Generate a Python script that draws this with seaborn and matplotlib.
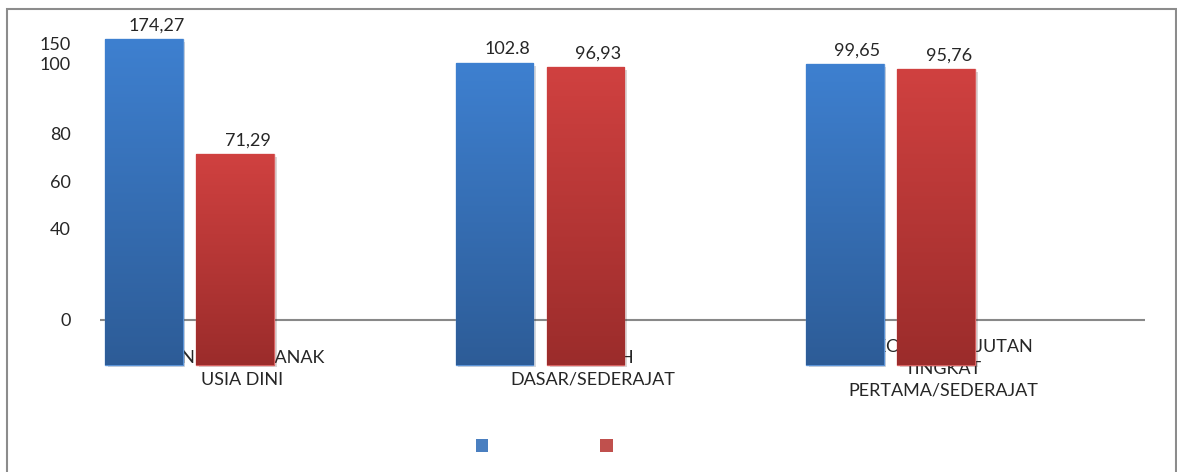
import matplotlib
matplotlib.use("Agg")
import matplotlib.pyplot as plt
import matplotlib.patheffects as pe
import numpy as np
import pandas as pd
import seaborn as sns
from matplotlib.patches import Patch, Rectangle

# data
categories = ["PENDIDIKAN ANAK\nUSIA DINI",
              "SEKOLAH\nDASAR/SEDERAJAT",
              "SEKOLAH LANJUTAN\nTINGKAT\nPERTAMA/SEDERAJAT"]
series = ["Seri 1", "Seri 2"]
values_1 = [174.27, 102.8, 99.65]
values_2 = [71.29, 96.93, 95.76]
labels_1 = ["174,27", "102.8", "99,65"]
labels_2 = ["71,29", "96,93", "95,76"]
yticks = [0, 40, 60, 80, 100, 150]

colors = ["#3b7dcc", "#c93a39"]
grad_top = ["#3e80d0", "#d04140"]
grad_bot = ["#2d5c97", "#9b2c2b"]
edges = ["#5b93d6", "#d86262"]

df = pd.DataFrame({
    "kategori": categories * 2,
    "seri": [series[0]] * 3 + [series[1]] * 3,
    "nilai": values_1 + values_2,
})

sns.set_style("white")
plt.rcParams["font.family"] = ["Lato", "DejaVu Sans"]

fig = plt.figure(figsize=(11.77, 4.72), dpi=100)
ax = fig.add_axes([100 / 1177, 1 - 420 / 472, 1045 / 1177, 400 / 472])

sns.barplot(data=df, x="kategori", y="nilai", hue="seri", palette=colors,
            width=0.52, gap=0.15, legend=False, ax=ax, errorbar=None)

# uneven value axis like the original chart (piecewise linear)
kv = np.array([-100, 0, 40, 60, 80, 96, 100, 150, 200, 400])
kp = np.array([-235, 0, 91, 139, 186, 252, 256, 276, 286, 320])
ax.set_yscale("function", functions=(lambda v: np.interp(v, kv, kp),
                                     lambda p: np.interp(p, kp, kv)))
ax.set_ylim(np.interp(-100, kp, kv), np.interp(300, kp, kv))
ax.set_xlim(-0.2553, 2.726)

# bars hang a bit below the zero line
floor = -19
for p in ax.patches:
    h = p.get_height()
    p.set_y(floor)
    p.set_height(h - floor)
    p.set_zorder(1)

for cont, labs in zip(ax.containers, [labels_1, labels_2]):
    anns = ax.bar_label(cont, labels=labs, padding=4, fontsize=13)
    for a in anns:
        a.xyann = (9, 4)

ax.axhline(0, color="#888888", lw=1.5, zorder=0.7)

ax.set_xticks([])
ax.set_yticks(yticks)
ax.set_yticklabels([str(t) for t in yticks], fontsize=13)
ax.tick_params(axis="y", length=0, pad=21)
ax.set_xlabel("")
ax.set_ylabel("")
for s in ax.spines.values():
    s.set_visible(False)

for i, cat in enumerate(categories):
    ax.annotate(cat, xy=(i, 0), xytext=(38, -35), textcoords="offset points",
                ha="center", va="center", fontsize=13, linespacing=1.45,
                zorder=0.6)

# gradient fill clipped to each bar
ax.set_autoscale_on(False)
xl, yl = ax.get_xlim(), ax.get_ylim()
to_axes = ax.transAxes.inverted()
for k, cont in enumerate(ax.containers):
    c0 = np.array(matplotlib.colors.to_rgb(grad_top[k]))
    c1 = np.array(matplotlib.colors.to_rgb(grad_bot[k]))
    t = np.linspace(0, 1, 200)[:, None]
    grad = (c0 * (1 - t) + c1 * t)[:, None, :]
    for p in cont:
        p.set_edgecolor(edges[k])
        p.set_linewidth(1)
        p.set_path_effects([pe.SimplePatchShadow(offset=(2, -2), alpha=0.18),
                            pe.Normal()])
        bb = p.get_window_extent()
        (x0, y0), (x1, y1) = to_axes.transform([[bb.x0, bb.y0], [bb.x1, bb.y1]])
        im = ax.imshow(grad, extent=(x0, x1, y0, y1), transform=ax.transAxes,
                       aspect="auto", origin="upper", zorder=1.05)
        im.set_clip_path(p)
ax.set_xlim(xl)
ax.set_ylim(yl)

handles = [Patch(facecolor=c, edgecolor="none") for c in ["#4a7fc0", "#c0504d"]]
fig.legend(handles, ["", ""], ncol=2, loc="center",
           bbox_to_anchor=(548 / 1177, 1 - 447 / 472), frameon=False,
           fontsize=13, handlelength=0.7, handleheight=0.7,
           handletextpad=0.4, columnspacing=5.8)

fig.add_artist(Rectangle((6.5 / 1177, -0.1), 1169 / 1177, 1.1 - 9.5 / 472,
                         transform=fig.transFigure, fill=False,
                         edgecolor="#8c8c8c", lw=1.5))

fig.savefig("out.png", dpi=100, facecolor="white")
